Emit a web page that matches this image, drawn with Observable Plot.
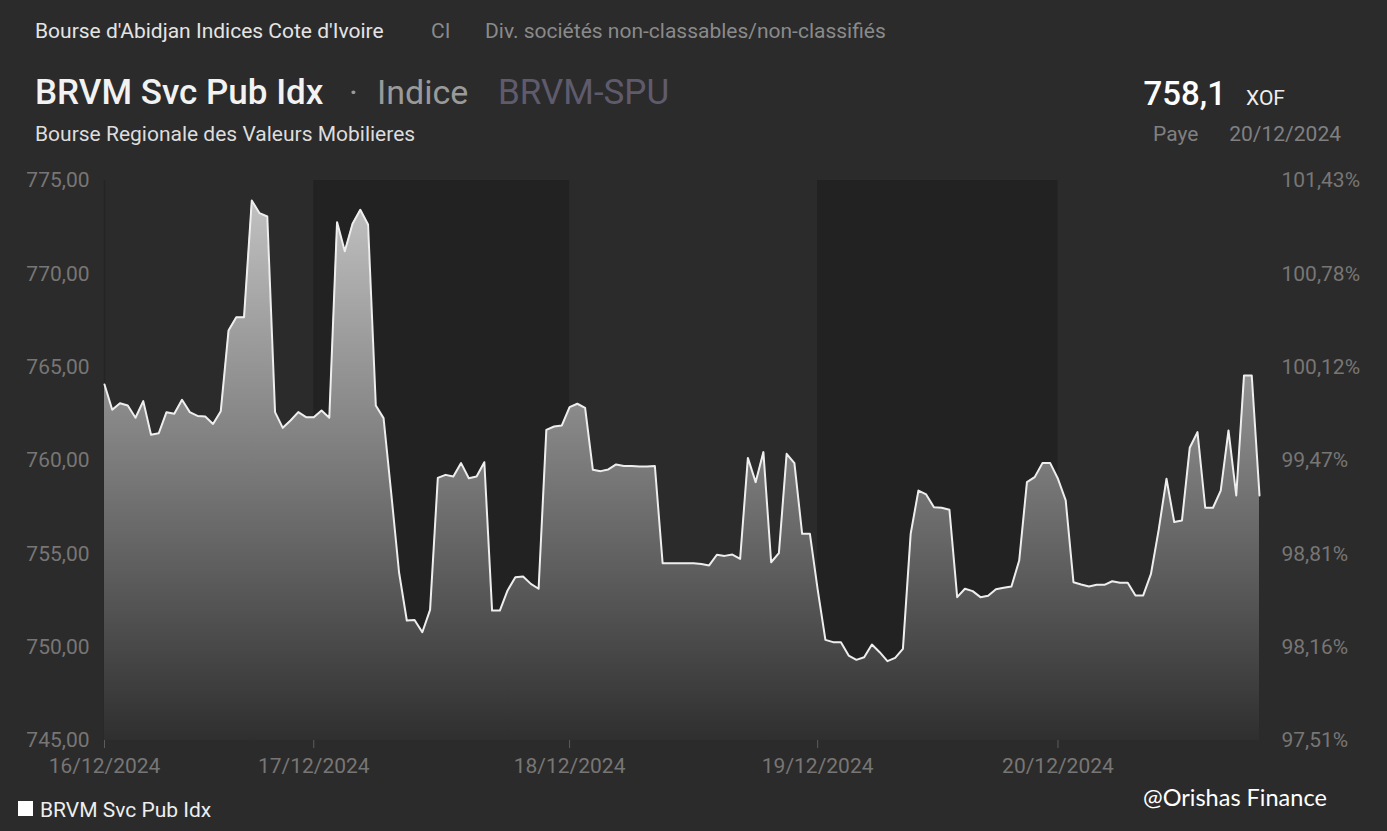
<!DOCTYPE html>
<html>
<head>
<meta charset="utf-8">
<script src="https://cdn.jsdelivr.net/npm/d3@7"></script>
<script src="https://cdn.jsdelivr.net/npm/@observablehq/plot@0.6"></script>
<style>
  html, body { margin: 0; padding: 0; background: #2b2b2b; width: 1387px; height: 831px; overflow: hidden; }
  #page { position: relative; width: 1387px; height: 831px; font-family: Roboto, sans-serif; }
  .abs { position: absolute; left: 0; }
</style>
</head>
<body>
<div id="page">
  <svg class="abs" id="header" style="top:0" width="1387" height="160" font-family="Roboto, sans-serif"></svg>
  <div class="abs" id="chart" style="top:160px"></div>
  <svg class="abs" id="footer" style="top:780px" width="1387" height="51" font-family="Roboto, sans-serif"></svg>
</div>
<script>
// ---- data ----
const days = ["16/12/2024", "17/12/2024", "18/12/2024", "19/12/2024", "20/12/2024"];
const values16 = [764.07, 762.72, 763.07, 762.95, 762.29, 763.18, 761.38, 761.46, 762.59, 762.50, 763.25, 762.59, 762.39, 762.36, 761.96, 762.64, 766.96, 767.68, 767.68, 773.93, 773.25, 773.07, 762.59, 761.75, 762.14, 762.59, 762.32];
const values17 = [762.32, 762.68, 762.29, 772.77, 771.21, 772.68, 773.43, 772.64, 762.95, 762.27, 758.2, 754.0, 751.43, 751.46, 750.80, 752.00, 759.07, 759.23, 759.14, 759.86, 759.05, 759.14, 759.91, 751.96, 751.96, 753.04, 753.75, 753.79, 753.39, 753.13, 761.64, 761.82, 761.88];
const values18 = [762.86, 763.04, 762.82, 759.50, 759.43, 759.52, 759.79, 759.71, 759.70, 759.68, 759.68, 759.70, 754.50, 754.50, 754.50, 754.50, 754.50, 754.45, 754.38, 754.95, 754.89, 754.96, 754.73, 760.14, 758.84, 760.45, 754.55, 755.04, 760.36, 759.86, 756.07, 756.07];
const values19 = [753.1, 750.39, 750.27, 750.27, 749.55, 749.32, 749.46, 750.14, 749.73, 749.25, 749.43, 749.91, 756.07, 758.39, 758.18, 757.50, 757.47, 757.36, 752.68, 753.13, 753.00, 752.68, 752.75, 753.1, 753.18, 753.25, 754.64, 758.84, 759.11, 759.86, 759.86];
const values20 = [759.02, 757.86, 753.48, 753.36, 753.25, 753.34, 753.34, 753.53, 753.45, 753.45, 752.77, 752.77, 753.93, 756.3, 759.02, 756.70, 756.79, 760.68, 761.52, 757.47, 757.47, 758.39, 761.61, 758.13, 764.55, 764.55, 758.13];
const yTicks = [745, 750, 755, 760, 765, 770, 775];
const pctLabels = ["97,51%", "98,16%", "98,81%", "99,47%", "100,12%", "100,78%", "101,43%"];
const seriesName = "BRVM Svc Pub Idx";

// ---- build table ----
const dayValues = [values16, values17, values18, values19, values20];
const data = [];
const dayStarts = [];
dayValues.forEach((vals, k) => {
  dayStarts.push(data.length);
  vals.forEach(v => data.push({i: data.length, v, day: days[k]}));
});
const lastIndex = data.length - 1;
const bands = days.map((d, k) => ({x1: dayStarts[k], x2: k + 1 < days.length ? dayStarts[k + 1] : lastIndex, dark: k % 2 === 1}));
const base = yTicks[0];

const fmt = d => d.toFixed(2).replace(".", ",");

const plot = Plot.plot({
  width: 1387,
  height: 630,
  marginTop: 20,
  marginBottom: 50,
  marginLeft: 104,
  marginRight: 128,
  x: {domain: [0, lastIndex]},
  y: {domain: [yTicks[0], yTicks[yTicks.length - 1]]},
  style: {fontFamily: "Roboto, sans-serif", fontSize: "21px", background: "transparent", color: "#787674"},
  marks: [
    Plot.rect(bands.filter(b => b.dark), {x1: "x1", x2: "x2", fill: "#222222"}),
    Plot.ruleX([dayStarts[0]], {stroke: "#242424", strokeWidth: 1.5}),
    Plot.areaY(data, {x: "i", y1: () => base, y2: "v", fill: "url(#areaGrad)"}),
    Plot.lineY(data, {x: "i", y: "v", stroke: "#eeeeee", strokeWidth: 2}),
    Plot.axisY({anchor: "left", label: null, ticks: yTicks, tickFormat: fmt, tickSize: 0, tickPadding: 15}),
    Plot.axisY({anchor: "right", label: null, ticks: yTicks, tickFormat: d => pctLabels[yTicks.indexOf(d)], tickSize: 0, tickPadding: 22}),
    Plot.axisX({label: null, ticks: dayStarts, tickFormat: d => days[dayStarts.indexOf(d)], tickSize: 8, tickPadding: 10, stroke: "#5c5c5c"})
  ]
});

// gradient definition for the area
const ns = "http://www.w3.org/2000/svg";
const defs = document.createElementNS(ns, "defs");
const grad = document.createElementNS(ns, "linearGradient");
grad.setAttribute("id", "areaGrad");
grad.setAttribute("gradientUnits", "userSpaceOnUse");
grad.setAttribute("x1", "0"); grad.setAttribute("x2", "0");
grad.setAttribute("y1", "20"); grad.setAttribute("y2", "580");
[["0", "#c6c6c6"], ["0.5", "#7c7c7c"], ["1", "#2f2f2f"]].forEach(([o, c]) => {
  const s = document.createElementNS(ns, "stop");
  s.setAttribute("offset", o); s.setAttribute("stop-color", c);
  grad.appendChild(s);
});
defs.appendChild(grad);
plot.insertBefore(defs, plot.firstChild);
document.getElementById("chart").appendChild(plot);

// header & footer text
function txt(svg, x, y, s, attrs) {
  const t = document.createElementNS(ns, "text");
  t.setAttribute("x", x); t.setAttribute("y", y);
  for (const k in attrs) t.setAttribute(k, attrs[k]);
  t.textContent = s;
  svg.appendChild(t);
  return t;
}
const h = document.getElementById("header");
txt(h, 35, 38, "Bourse d'Abidjan Indices Cote d'Ivoire", {"font-size": 21, fill: "#e4e4e4"});
txt(h, 431, 38, "CI", {"font-size": 21, fill: "#8a8a8a"});
txt(h, 485, 38, "Div. sociétés non-classables/non-classifiés", {"font-size": 21, fill: "#8a8a8a"});
txt(h, 35, 104, seriesName, {"font-size": 35, "font-weight": 500, fill: "#f2f2f2"});
txt(h, 349, 104, "·", {"font-size": 34, fill: "#9a9a9a"});
txt(h, 377, 104, "Indice", {"font-size": 34, fill: "#9a9a9a"});
txt(h, 498, 104, "BRVM-SPU", {"font-size": 35, fill: "#5f5b6d"});
txt(h, 35, 141, "Bourse Regionale des Valeurs Mobilieres", {"font-size": 21, fill: "#dddddd"});
const lastVal = data[lastIndex].v.toFixed(1).replace(".", ",");
txt(h, 1226, 105, lastVal, {"font-size": 33, "font-weight": 500, fill: "#ffffff", "text-anchor": "end"});
txt(h, 1246, 105, "XOF", {"font-size": 21, fill: "#eeeeee"});
txt(h, 1153, 141, "Paye", {"font-size": 21, fill: "#808080"});
txt(h, 1341, 141, days[days.length - 1], {"font-size": 21, fill: "#808080", "text-anchor": "end"});

const f = document.getElementById("footer");
const sq = document.createElementNS(ns, "rect");
sq.setAttribute("x", 18); sq.setAttribute("y", 21); sq.setAttribute("width", 15); sq.setAttribute("height", 15);
sq.setAttribute("fill", "#ffffff");
f.appendChild(sq);
txt(f, 40, 37, seriesName, {"font-size": 21, fill: "#eeeeee"});
txt(f, 1143, 26, "@Orishas Finance", {"font-size": 23.5, fill: "#ffffff", "font-family": "Lato, sans-serif"});
</script>
</body>
</html>
